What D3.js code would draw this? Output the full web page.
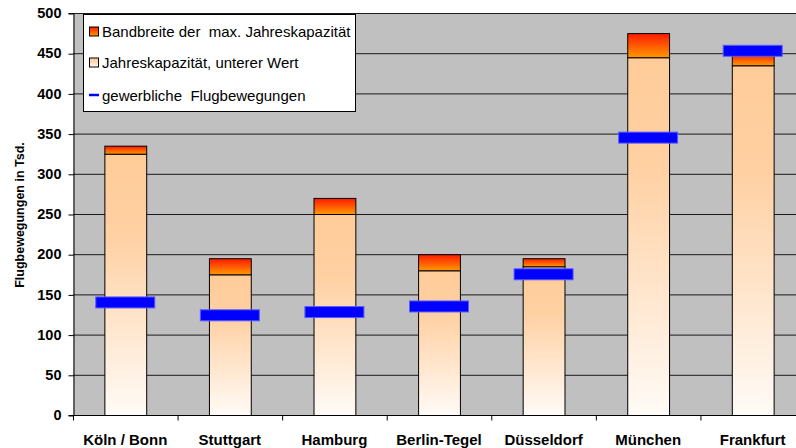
<!DOCTYPE html>
<html>
<head>
<meta charset="utf-8">
<script src="https://cdn.jsdelivr.net/npm/d3@7"></script>
<style>
  body { margin: 0; background: #fff; }
  text { font-family: Arial, "Liberation Sans", sans-serif; }
</style>
</head>
<body>
<svg id="chart" width="796" height="448"></svg>
<script>
// Airports and values (thousand movements)
const airports = ["Köln / Bonn", "Stuttgart", "Hamburg", "Berlin-Tegel", "Düsseldorf", "München", "Frankfurt"];
const capacityLow = [325, 175, 250, 180, 185, 445, 435];   // Jahreskapazität, unterer Wert
const capacityHigh = [335, 195, 270, 200, 195, 475, 450];  // obere Grenze der Bandbreite
const movements = [140, 124, 128, 135, 175, 345, 453];     // gewerbliche Flugbewegungen
const yTicks = [0, 50, 100, 150, 200, 250, 300, 350, 400, 450, 500];
const legendLabels = ["Bandbreite der  max. Jahreskapazität", "Jahreskapazität, unterer Wert", "gewerbliche  Flugbewegungen"];

const svg = d3.select("#chart");
const plotL = 73, plotR = 805, plotT = 13, plotB = 415;

const x = d3.scaleBand().domain(airports).range([plotL, plotR]).paddingInner(0.6).paddingOuter(0.3);
const band = d3.scaleBand().domain(airports).range([plotL, plotR]);
const y = d3.scaleLinear().domain([0, 500]).range([plotB, plotT]);

// Gradients
const defs = svg.append("defs");
function grad(id, stops) {
  const g = defs.append("linearGradient").attr("id", id)
    .attr("x1", 0).attr("y1", 0).attr("x2", 0).attr("y2", 1);
  stops.forEach(s => g.append("stop").attr("offset", s[0]).attr("stop-color", s[1]));
}
grad("gLow", [[0, "#ffcc99"], [0.3, "#ffd0a2"], [1, "#fffbf7"]]);
grad("gHigh", [[0, "#ff1a00"], [1, "#ff9900"]]);

// Plot background
svg.append("rect").attr("x", plotL).attr("y", plotT)
  .attr("width", plotR - plotL).attr("height", plotB - plotT).attr("fill", "#c0c0c0");

// Gridlines
svg.append("g").selectAll("line").data(yTicks.slice(1)).join("line")
  .attr("x1", plotL).attr("x2", plotR)
  .attr("y1", d => y(d) + 0.5).attr("y2", d => y(d) + 0.5)
  .attr("stroke", "#1a1a1a").attr("stroke-width", 1);

// Y axis
const yAxis = svg.append("g").attr("transform", `translate(${plotL + 0.5},0)`)
  .call(d3.axisLeft(y).tickValues(yTicks).tickSize(5).tickPadding(7));
yAxis.select(".domain").attr("stroke", "#000");
yAxis.selectAll(".tick line").attr("stroke", "#000").attr("transform", "translate(0,0.5)");
yAxis.selectAll("text").attr("font-size", 14.5).attr("font-weight", "bold").attr("fill", "#000")
  .attr("font-family", "Arial, 'Liberation Sans', sans-serif");

// X axis
const xAxisG = svg.append("g").attr("transform", `translate(0,${plotB + 0.5})`);
xAxisG.append("line").attr("x1", plotL).attr("x2", plotR).attr("stroke", "#000");
xAxisG.selectAll("line.tk").data(airports).join("line").attr("class", "tk")
  .attr("x1", d => band(d) + 0.5).attr("x2", d => band(d) + 0.5)
  .attr("y1", 0).attr("y2", 5).attr("stroke", "#000");
xAxisG.selectAll("text").data(airports).join("text")
  .attr("x", d => band(d) + band.bandwidth() / 2).attr("y", 29.5)
  .attr("text-anchor", "middle").attr("font-size", 15).attr("font-weight", "bold")
  .text(d => d);

// Bars: lower capacity
const bars = svg.append("g");
bars.selectAll("rect.low").data(airports).join("rect").attr("class", "low")
  .attr("x", d => x(d) + 0.5).attr("width", x.bandwidth())
  .attr("y", (d, i) => y(capacityLow[i]) + 0.5)
  .attr("height", (d, i) => y(0) - y(capacityLow[i]))
  .attr("fill", "url(#gLow)").attr("stroke", "#000").attr("stroke-width", 1);

// Bars: capacity band
bars.selectAll("rect.high").data(airports).join("rect").attr("class", "high")
  .attr("x", d => x(d) + 0.5).attr("width", x.bandwidth())
  .attr("y", (d, i) => y(capacityHigh[i]) + 0.5)
  .attr("height", (d, i) => y(capacityLow[i]) - y(capacityHigh[i]))
  .attr("fill", "url(#gHigh)").attr("stroke", "#000").attr("stroke-width", 1);

// Movement markers
const markW = 59, markH = 11;
svg.append("g").selectAll("rect").data(airports).join("rect")
  .attr("x", d => x(d) + x.bandwidth() / 2 - markW / 2)
  .attr("y", (d, i) => y(movements[i]) - markH / 2)
  .attr("width", markW).attr("height", markH)
  .attr("fill", "#0000ff").attr("stroke", "#5a5aff").attr("stroke-width", 1);

// Legend
const lg = svg.append("g");
lg.append("rect").attr("x", 83.5).attr("y", 14.5).attr("width", 272).attr("height", 97)
  .attr("fill", "#fff").attr("stroke", "#000");
const rowY = [31.5, 62.5, 95];
lg.append("rect").attr("x", 89.5).attr("y", rowY[0] - 4.5).attr("width", 9).attr("height", 9)
  .attr("fill", "url(#gHigh)").attr("stroke", "#000");
lg.append("rect").attr("x", 89.5).attr("y", rowY[1] - 4.5).attr("width", 9).attr("height", 9)
  .attr("fill", "url(#gLow)").attr("stroke", "#000");
lg.append("line").attr("x1", 89).attr("x2", 99).attr("y1", rowY[2]).attr("y2", rowY[2])
  .attr("stroke", "#0000ff").attr("stroke-width", 2.5);
lg.selectAll("text").data(legendLabels).join("text")
  .attr("x", 102).attr("y", (d, i) => rowY[i] + 5.5)
  .attr("font-size", 15).attr("fill", "#000")
  .style("white-space", "pre")
  .text(d => d);

// Y axis title
svg.append("text")
  .attr("transform", "translate(24,215) rotate(-90)")
  .attr("text-anchor", "middle").attr("font-size", 12.5).attr("font-weight", "bold")
  .text("Flugbewegungen in Tsd.");
</script>
</body>
</html>
